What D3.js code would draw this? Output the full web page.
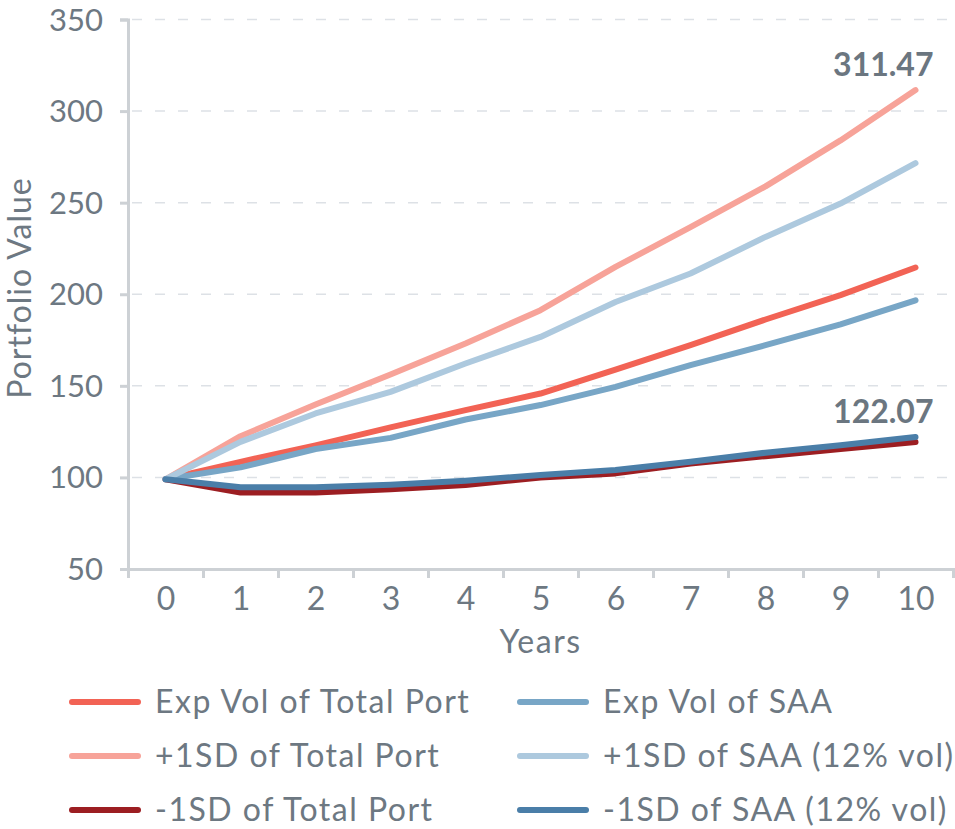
<!DOCTYPE html>
<html>
<head>
<meta charset="utf-8">
<script src="https://cdn.jsdelivr.net/npm/d3@7"></script>
<style>
  body { margin: 0; background: #fff; }
  svg text { font-family: Lato, "Open Sans", sans-serif; fill: #6d7882; }
</style>
</head>
<body>
<div id="canvas"></div>
<script>
// --- data
var years = [0, 1, 2, 3, 4, 5, 6, 7, 8, 9, 10];
var expTotal  = [99, 108.5, 117.5, 127.3, 136.7, 145.8, 158.9, 172.2, 186.2, 199.5, 214.6];
var upTotal   = [99, 122.5, 139.8, 156.2, 173.1, 191.3, 214.9, 236.7, 258.9, 284, 311.47];
var downTotal = [99, 91.8, 91.8, 93.5, 95.8, 100, 102.2, 107.6, 111.6, 115.5, 119.3];
var expSAA    = [99, 105.5, 115.5, 121.6, 131.6, 139.5, 149.4, 161.3, 172.2, 183.5, 196.7];
var upSAA     = [99, 119.4, 134.9, 146.7, 162.2, 176.7, 195.8, 211.3, 231.3, 249.5, 271.6];
var downSAA   = [99, 94.6, 94.6, 96, 98.2, 101.3, 104, 108.5, 113.5, 117.6, 122.07];
var yTicks = [50, 100, 150, 200, 250, 300, 350];

var series = [
  {name: 'Exp Vol of Total Port', values: expTotal,  color: '#f26355'},
  {name: '+1SD of Total Port',    values: upTotal,   color: '#f7a399'},
  {name: '-1SD of Total Port',    values: downTotal, color: '#9c1e22'},
  {name: 'Exp Vol of SAA',        values: expSAA,    color: '#78a6c6'},
  {name: '+1SD of SAA (12% vol)', values: upSAA,     color: '#adc9de'},
  {name: '-1SD of SAA (12% vol)', values: downSAA,   color: '#4a7ea8'}
];

var W = 955, H = 829;
var M = {top: 19.5, left: 128, right: 2, bottom: 260};

var svg = d3.select('#canvas').append('svg')
  .attr('width', W)
  .attr('height', H);

var x = d3.scaleLinear()
  .domain([-0.5, 10.5])
  .range([M.left, W - M.right]);

var y = d3.scaleLinear()
  .domain([50, 350])
  .range([H - M.bottom, M.top]);

// --- grid
svg.append('g')
  .selectAll('line')
  .data(yTicks.slice(1))
  .enter().append('line')
  .attr('x1', M.left + 4)
  .attr('x2', W - M.right)
  .attr('y1', function(d){ return y(d); })
  .attr('y2', function(d){ return y(d); })
  .attr('stroke', '#dde1e6')
  .attr('stroke-width', 1.5)
  .attr('stroke-dasharray', '10,13');

// --- y axis
var yAxis = svg.append('g')
  .attr('transform', 'translate(' + M.left + ',0)')
  .call(d3.axisLeft(y).tickValues(yTicks).tickSize(8).tickPadding(17));
yAxis.selectAll('text').style('font-size', '31px').attr('dy', '0.34em');

// --- x axis: tick marks between years, labels on years
var xMarks = svg.append('g')
  .attr('transform', 'translate(0,' + y(50) + ')')
  .call(d3.axisBottom(x).tickValues(d3.range(-0.5, 11, 1)).tickSize(9).tickFormat(''));

var xLabels = svg.append('g')
  .attr('transform', 'translate(0,' + y(50) + ')')
  .call(d3.axisBottom(x).tickValues(years).tickSize(0).tickPadding(18).tickFormat(d3.format('d')));
xLabels.select('.domain').remove();
xLabels.selectAll('text').style('font-size', '32px');

svg.selectAll('.domain, .tick line')
  .attr('stroke', '#cdd1d5')
  .attr('stroke-width', 3);

// --- axis titles
svg.append('text')
  .attr('x', x(5))
  .attr('y', 653)
  .attr('text-anchor', 'middle')
  .style('font-size', '32px')
  .style('letter-spacing', '1.5px')
  .text('Years');

svg.append('text')
  .attr('transform', 'translate(31,288) rotate(-90)')
  .attr('text-anchor', 'middle')
  .style('font-size', '32px')
  .style('letter-spacing', '1px')
  .text('Portfolio Value');

// --- lines
var line = d3.line()
  .x(function(d, i){ return x(years[i]); })
  .y(function(d){ return y(d); });

svg.append('g')
  .selectAll('path')
  .data(series)
  .enter().append('path')
  .attr('d', function(d){ return line(d.values); })
  .attr('fill', 'none')
  .attr('stroke', function(d){ return d.color; })
  .attr('stroke-width', 6)
  .attr('stroke-linecap', 'round')
  .attr('stroke-linejoin', 'round');

// --- end labels
[upTotal, downSAA].forEach(function(v){
  var last = v[v.length - 1];
  svg.append('text')
    .attr('x', x(10) + 18)
    .attr('y', y(last) - 14)
    .attr('text-anchor', 'end')
    .style('font-size', '32px')
    .style('font-weight', 'bold')
    .style('fill', '#6b7680')
    .text(d3.format('.2f')(last));
});

// --- legend
var legend = svg.append('g')
  .selectAll('g')
  .data(series)
  .enter().append('g')
  .attr('transform', function(d, i){
    var col = i < 3 ? 0 : 1, row = i % 3;
    return 'translate(' + (72 + col * 448) + ',' + (702 + row * 54) + ')';
  });

legend.append('line')
  .attr('x1', 0).attr('x2', 66)
  .attr('stroke', function(d){ return d.color; })
  .attr('stroke-width', 6)
  .attr('stroke-linecap', 'round');

legend.append('text')
  .attr('x', 83)
  .attr('dy', '0.35em')
  .style('font-size', '32px')
  .style('letter-spacing', '1.5px')
  .text(function(d){ return d.name; });
</script>
</body>
</html>
